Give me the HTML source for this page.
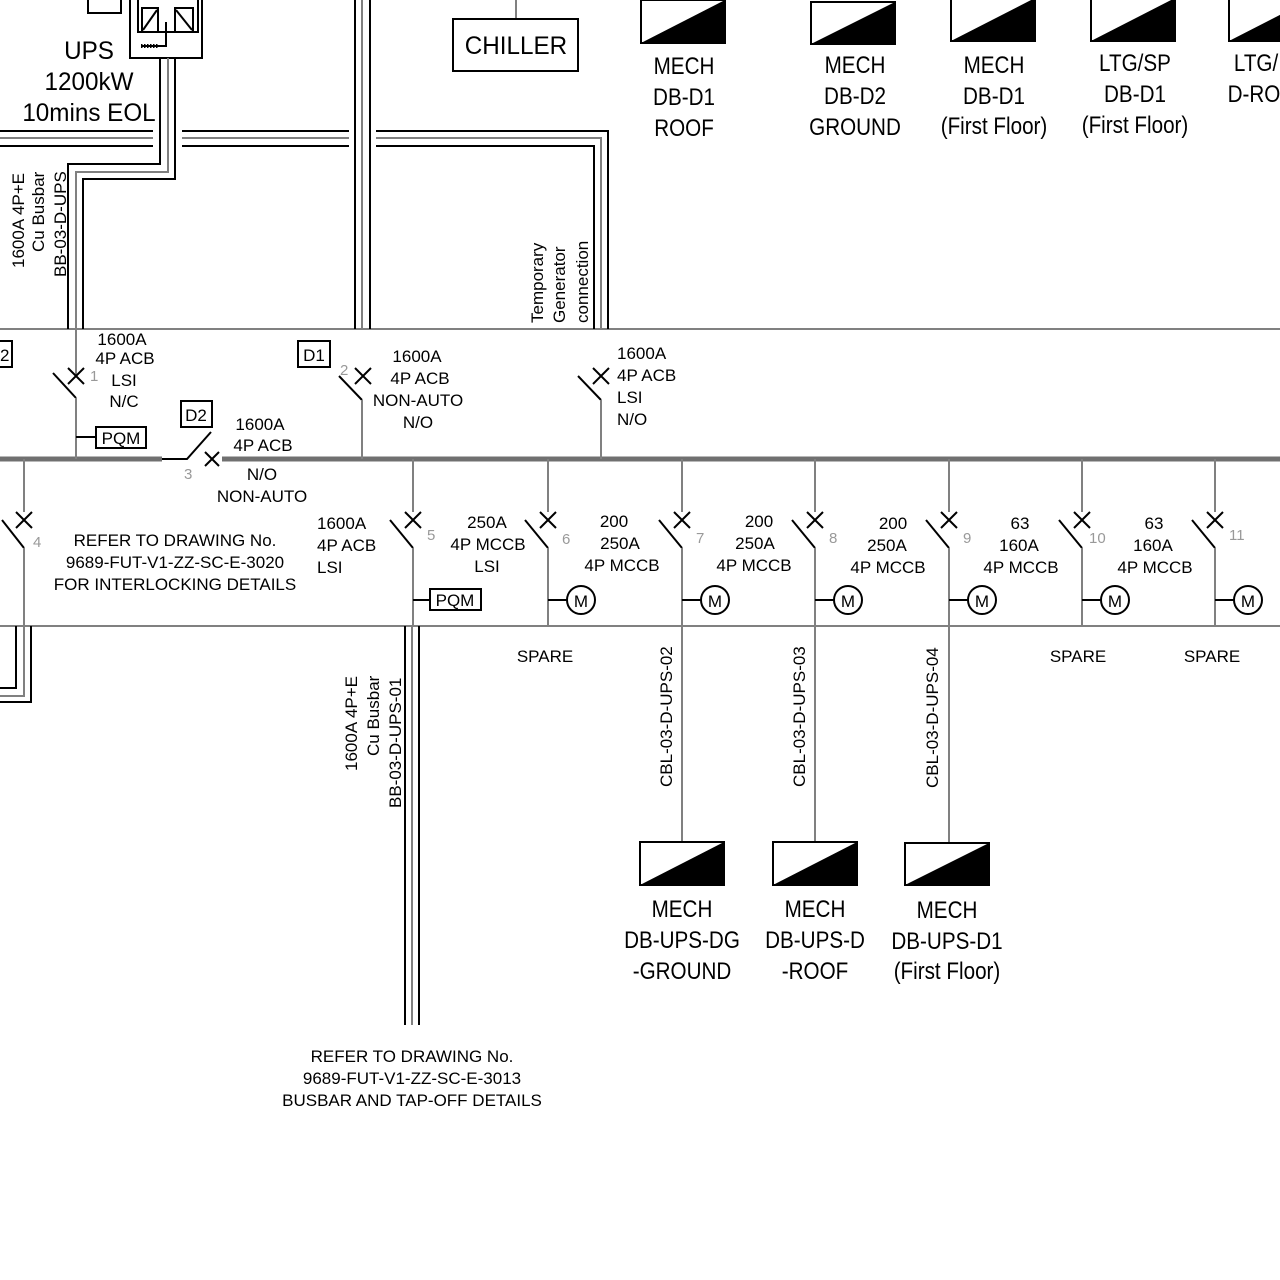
<!DOCTYPE html>
<html><head><meta charset="utf-8"><style>
html,body{margin:0;padding:0;background:#fff}
svg{display:block}
text{font-family:"Liberation Sans",Arial,sans-serif;fill:#000}
.g{stroke:#808080;stroke-width:2;fill:none}
.k{stroke:#000;stroke-width:2;fill:none}
.n{fill:#999;font-size:15px}
.t{font-size:17px;text-anchor:middle}
.b{font-size:24px;text-anchor:middle;transform:scaleX(0.86);transform-box:fill-box;transform-origin:center}
.u{font-size:25px;text-anchor:middle;transform:scaleX(0.97);transform-box:fill-box;transform-origin:center}
</style></head><body>
<svg width="1280" height="1280" viewBox="0 0 1280 1280" xmlns="http://www.w3.org/2000/svg">
<line x1="0" y1="329" x2="1280" y2="329" class="g"/>
<line x1="0" y1="626" x2="1280" y2="626" class="g"/>
<line x1="0" y1="459" x2="162" y2="459" stroke="#707070" stroke-width="5"/>
<line x1="222" y1="459" x2="1280" y2="459" stroke="#707070" stroke-width="5"/>

<rect x="130" y="-2" width="72" height="60" class="k"/>
<rect x="138" y="-2" width="60" height="34" class="k"/>
<rect x="142" y="8" width="16" height="24" class="k"/>
<rect x="175" y="8" width="18" height="24" class="k"/>
<line x1="143" y1="30" x2="157" y2="10" class="k" stroke-width="1.5"/>
<line x1="176" y1="10" x2="192" y2="30" class="k" stroke-width="1.5"/>
<polyline points="166,22 166,46 142,46" class="k" stroke-width="1.5"/>
<line x1="141" y1="46" x2="158" y2="46" stroke="#000" stroke-width="4" stroke-dasharray="1.5,1.5"/>
<rect x="88" y="-2" width="33" height="15" class="k"/>
<text x="89" y="59" class="u">UPS</text>
<text x="89" y="90" class="u">1200kW</text>
<text x="89" y="121" class="u">10mins EOL</text>

<polyline points="160,58 160,164 68,164 68,329" class="k"/>
<polyline points="168,58 168,172 76,172 76,329" class="g"/>
<polyline points="175,58 175,179 83,179 83,329" class="k"/>
<g>
<line x1="0" y1="131" x2="153" y2="131" class="k"/><line x1="0" y1="138" x2="153" y2="138" class="g"/><line x1="0" y1="146" x2="153" y2="146" class="k"/>
<line x1="182" y1="131" x2="349" y2="131" class="k"/><line x1="182" y1="138" x2="349" y2="138" class="g"/><line x1="182" y1="146" x2="349" y2="146" class="k"/>
<polyline points="376,131 608,131 608,329" class="k"/>
<polyline points="376,138 601,138 601,329" class="g"/>
<polyline points="376,146 594,146 594,329" class="k"/>
</g>
<line x1="355" y1="0" x2="355" y2="329" class="k"/>
<line x1="362" y1="0" x2="362" y2="329" class="g"/>
<line x1="370" y1="0" x2="370" y2="329" class="k"/>

<line x1="516" y1="0" x2="516" y2="19" class="g"/>
<rect x="453" y="19" width="125" height="52" class="k"/>
<text x="516" y="54" class="u">CHILLER</text>

<g font-size="17">
<text transform="translate(24,268) rotate(-90)">1600A 4P+E</text>
<text transform="translate(44,252) rotate(-90)">Cu Busbar</text>
<text transform="translate(66,277) rotate(-90)">BB-03-D-UPS</text>
<text transform="translate(543,323) rotate(-90)">Temporary</text>
<text transform="translate(565,323) rotate(-90)">Generator</text>
<text transform="translate(588,323) rotate(-90)">connection</text>
</g>

<g>
<rect x="641" y="0" width="84" height="43" class="k"/><polygon points="641,43 725,43 725,0" fill="#000"/>
<rect x="811" y="2" width="84" height="42" class="k"/><polygon points="811,44 895,44 895,2" fill="#000"/>
<rect x="951" y="-2" width="84" height="43" class="k"/><polygon points="951,41 1035,41 1035,-2" fill="#000"/>
<rect x="1091" y="-2" width="84" height="43" class="k"/><polygon points="1091,41 1175,41 1175,-2" fill="#000"/>
<rect x="1229" y="-2" width="84" height="43" class="k"/><polygon points="1229,41 1313,41 1313,-2" fill="#000"/>
</g>
<text x="684" y="74" class="b">MECH</text><text x="684" y="105" class="b">DB-D1</text><text x="684" y="136" class="b">ROOF</text>
<text x="855" y="73" class="b">MECH</text><text x="855" y="104" class="b">DB-D2</text><text x="855" y="135" class="b">GROUND</text>
<text x="994" y="73" class="b">MECH</text><text x="994" y="104" class="b">DB-D1</text><text x="994" y="134" class="b">(First Floor)</text>
<text x="1135" y="71" class="b">LTG/SP</text><text x="1135" y="102" class="b">DB-D1</text><text x="1135" y="133" class="b">(First Floor)</text>
<text x="1256" y="71" class="b">LTG/</text><text x="1254" y="102" class="b">D-RO</text>

<rect x="-10" y="341" width="22" height="26" class="k"/><text x="0" y="361" font-size="17">2</text>
<line x1="76" y1="329" x2="76" y2="376" class="g"/>
<path d="M68,368 L84,384 M84,368 L68,384" class="k"/>
<line x1="53" y1="373" x2="76" y2="398" class="k"/>
<line x1="76" y1="398" x2="76" y2="459" class="g"/>
<text x="90" y="381" class="n">1</text>
<text x="122" y="345" class="t">1600A</text><text x="125" y="364" class="t">4P ACB</text><text x="124" y="386" class="t">LSI</text><text x="124" y="407" class="t">N/C</text>
<line x1="76" y1="437" x2="96" y2="437" class="k"/>
<rect x="96" y="427" width="50" height="21" class="k"/><text x="121" y="444" class="t">PQM</text>
<polyline points="162,459 187,459 211,432" class="k"/>
<path d="M205,452 L219,466 M219,452 L205,466" class="k"/>
<text x="184" y="479" class="n">3</text>
<rect x="181" y="401" width="31" height="26" class="k"/><text x="196" y="421" class="t">D2</text>
<text x="260" y="430" class="t">1600A</text><text x="263" y="451" class="t">4P ACB</text>
<text x="262" y="480" class="t">N/O</text><text x="262" y="502" class="t">NON-AUTO</text>
<rect x="298" y="341" width="32" height="26" class="k"/><text x="314" y="361" class="t">D1</text>
<path d="M355,368 L371,384 M371,368 L355,384" class="k"/>
<line x1="339" y1="376" x2="362" y2="400" class="k"/>
<line x1="362" y1="400" x2="362" y2="459" class="g"/>
<text x="340" y="375" class="n">2</text>
<text x="417" y="362" class="t">1600A</text><text x="420" y="384" class="t">4P ACB</text><text x="418" y="406" class="t">NON-AUTO</text><text x="418" y="428" class="t">N/O</text>
<path d="M593,368 L609,384 M609,368 L593,384" class="k"/>
<line x1="578" y1="376" x2="601" y2="400" class="k"/>
<line x1="601" y1="400" x2="601" y2="459" class="g"/>
<text x="617" y="359" font-size="17">1600A</text><text x="617" y="381" font-size="17">4P ACB</text><text x="617" y="403" font-size="17">LSI</text><text x="617" y="425" font-size="17">N/O</text>

<g>
<line x1="24" y1="459" x2="24" y2="512" class="g"/>
<path d="M16,512 L32,528 M32,512 L16,528" class="k"/>
<line x1="2" y1="520" x2="24" y2="548" class="k"/><line x1="24" y1="548" x2="24" y2="626" class="g"/>
<text x="33" y="547" class="n">4</text>
</g>
<text x="175" y="546" class="t">REFER TO DRAWING No.</text>
<text x="175" y="568" class="t">9689-FUT-V1-ZZ-SC-E-3020</text>
<text x="175" y="590" class="t">FOR INTERLOCKING DETAILS</text>
<line x1="413" y1="459" x2="413" y2="512" class="g"/>
<path d="M405,512 L421,528 M421,512 L405,528" class="k"/>
<line x1="390" y1="520" x2="413" y2="548" class="k"/><line x1="413" y1="548" x2="413" y2="626" class="g"/>
<text x="427" y="540" class="n">5</text>
<text x="317" y="529" font-size="17">1600A</text><text x="317" y="551" font-size="17">4P ACB</text><text x="317" y="573" font-size="17">LSI</text>
<line x1="413" y1="600" x2="430" y2="600" class="k"/>
<rect x="430" y="589" width="51" height="21" class="k"/><text x="455" y="606" class="t">PQM</text>
<text x="487" y="528" class="t">250A</text><text x="488" y="550" class="t">4P MCCB</text><text x="487" y="572" class="t">LSI</text>

<g id="f6">
<line x1="548" y1="459" x2="548" y2="512" class="g"/>
<path d="M540,512 L556,528 M556,512 L540,528" class="k"/>
<line x1="525" y1="520" x2="548" y2="548" class="k"/><line x1="548" y1="548" x2="548" y2="626" class="g"/>
<line x1="548" y1="600" x2="567" y2="600" class="k"/><circle cx="581" cy="600" r="14" class="k"/><text x="581" y="607" class="t">M</text>
</g>
<text x="562" y="544" class="n">6</text>
<text x="614" y="527" class="t">200</text><text x="620" y="549" class="t">250A</text><text x="622" y="571" class="t">4P MCCB</text>
<use href="#f6" x="134"/><text x="696" y="543" class="n">7</text>
<text x="759" y="527" class="t">200</text><text x="755" y="549" class="t">250A</text><text x="754" y="571" class="t">4P MCCB</text>
<use href="#f6" x="267"/><text x="829" y="543" class="n">8</text>
<text x="893" y="529" class="t">200</text><text x="887" y="551" class="t">250A</text><text x="888" y="573" class="t">4P MCCB</text>
<use href="#f6" x="401"/><text x="963" y="543" class="n">9</text>
<text x="1020" y="529" class="t">63</text><text x="1019" y="551" class="t">160A</text><text x="1021" y="573" class="t">4P MCCB</text>
<use href="#f6" x="534"/><text x="1089" y="543" class="n">10</text>
<text x="1154" y="529" class="t">63</text><text x="1153" y="551" class="t">160A</text><text x="1155" y="573" class="t">4P MCCB</text>
<use href="#f6" x="667"/><text x="1229" y="540" class="n">11</text>

<text x="545" y="662" class="t">SPARE</text><text x="1078" y="662" class="t">SPARE</text><text x="1212" y="662" class="t">SPARE</text>
<line x1="682" y1="626" x2="682" y2="842" class="g"/>
<line x1="815" y1="626" x2="815" y2="842" class="g"/>
<line x1="949" y1="626" x2="949" y2="842" class="g"/>
<g font-size="17">
<text transform="translate(672,787) rotate(-90)">CBL-03-D-UPS-02</text>
<text transform="translate(805,787) rotate(-90)">CBL-03-D-UPS-03</text>
<text transform="translate(938,788) rotate(-90)">CBL-03-D-UPS-04</text>
</g>
<rect x="640" y="842" width="84" height="43" class="k"/><polygon points="640,885 724,885 724,842" fill="#000"/>
<rect x="773" y="842" width="84" height="43" class="k"/><polygon points="773,885 857,885 857,842" fill="#000"/>
<rect x="905" y="843" width="84" height="42" class="k"/><polygon points="905,885 989,885 989,843" fill="#000"/>
<text x="682" y="917" class="b">MECH</text><text x="682" y="948" class="b">DB-UPS-DG</text><text x="682" y="979" class="b">-GROUND</text>
<text x="815" y="917" class="b">MECH</text><text x="815" y="948" class="b">DB-UPS-D</text><text x="815" y="979" class="b">-ROOF</text>
<text x="947" y="918" class="b">MECH</text><text x="947" y="949" class="b">DB-UPS-D1</text><text x="947" y="979" class="b">(First Floor)</text>

<line x1="405" y1="626" x2="405" y2="1025" class="k"/>
<line x1="412" y1="626" x2="412" y2="1025" class="g"/>
<line x1="419" y1="626" x2="419" y2="1025" class="k"/>
<g font-size="17">
<text transform="translate(357,771) rotate(-90)">1600A 4P+E</text>
<text transform="translate(379,756) rotate(-90)">Cu Busbar</text>
<text transform="translate(401,808) rotate(-90)">BB-03-D-UPS-01</text>
</g>
<text x="412" y="1062" class="t">REFER TO DRAWING No.</text>
<text x="412" y="1084" class="t">9689-FUT-V1-ZZ-SC-E-3013</text>
<text x="412" y="1106" class="t">BUSBAR AND TAP-OFF DETAILS</text>

<polyline points="16,626 16,688 0,688" class="k"/>
<polyline points="24,626 24,696 0,696" class="g"/>
<polyline points="31,626 31,702 0,702" class="k"/>
</svg>
</body></html>
